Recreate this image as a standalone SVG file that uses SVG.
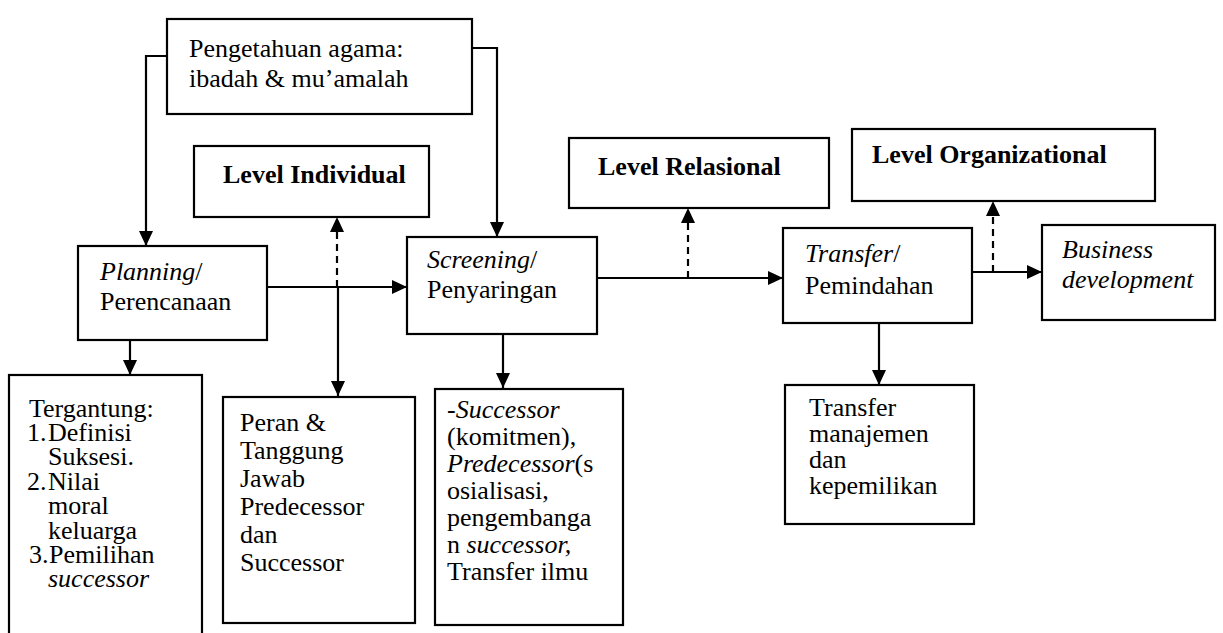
<svg xmlns="http://www.w3.org/2000/svg" width="1223" height="633" viewBox="0 0 1223 633">
  <style>
    .box { fill: #fff; stroke: #000; stroke-width: 2.2; }
    .t { font-family: "Liberation Serif", "Times New Roman", serif; font-size: 26px; fill: #000; }
    .b { font-weight: bold; }
    .i { font-style: italic; }
    .link { fill: none; stroke: #000; stroke-width: 2.2; }
    .dash { stroke-dasharray: 7 5; }
  </style>
  <defs>
    <marker id="arrow" markerUnits="userSpaceOnUse" markerWidth="16" markerHeight="14" refX="15" refY="7" orient="auto">
      <path d="M0,0 L15,7 L0,14 Z" fill="#000"/>
    </marker>
  </defs>

  <rect width="1223" height="633" fill="#fff"/>

  <!-- connectors -->
  <g id="connectors">
    <path class="link" d="M167,56 H146 V246" marker-end="url(#arrow)"/>
    <path class="link" d="M472,48 H497 V237" marker-end="url(#arrow)"/>
    <path class="link" d="M267,287 H407" marker-end="url(#arrow)"/>
    <path class="link dash" d="M337,287 V217" marker-end="url(#arrow)"/>
    <path class="link" d="M338,287 V396" marker-end="url(#arrow)"/>
    <path class="link" d="M130,340 V375" marker-end="url(#arrow)"/>
    <path class="link" d="M503,334 V388" marker-end="url(#arrow)"/>
    <path class="link" d="M597,278 H783" marker-end="url(#arrow)"/>
    <path class="link dash" d="M688,278 V208" marker-end="url(#arrow)"/>
    <path class="link" d="M972,272 H1042" marker-end="url(#arrow)"/>
    <path class="link dash" d="M993,272 V201" marker-end="url(#arrow)"/>
    <path class="link" d="M879,323 V385" marker-end="url(#arrow)"/>
  </g>

  <!-- religious knowledge -->
  <g id="pengetahuan">
    <rect class="box" x="167" y="19" width="305" height="95"/>
    <text class="t" x="189" y="57">Pengetahuan agama:</text>
    <text class="t" x="189" y="87">ibadah &amp; mu’amalah</text>
  </g>

  <g id="level-individual">
    <rect class="box" x="194" y="146" width="235" height="71"/>
    <text class="t b" x="223" y="183">Level Individual</text>
  </g>

  <g id="level-relasional">
    <rect class="box" x="569" y="138" width="260" height="70"/>
    <text class="t b" x="598" y="175">Level Relasional</text>
  </g>

  <g id="level-organizational">
    <rect class="box" x="852" y="129" width="303" height="72"/>
    <text class="t b" x="872" y="163">Level Organizational</text>
  </g>

  <g id="planning">
    <rect class="box" x="78" y="246" width="189" height="94"/>
    <text class="t" x="100" y="280"><tspan class="i">Planning</tspan>/</text>
    <text class="t" x="100" y="310">Perencanaan</text>
  </g>

  <g id="screening">
    <rect class="box" x="407" y="237" width="190" height="97"/>
    <text class="t" x="427" y="268"><tspan class="i">Screening</tspan>/</text>
    <text class="t" x="427" y="298">Penyaringan</text>
  </g>

  <g id="transfer">
    <rect class="box" x="783" y="228" width="189" height="95"/>
    <text class="t" x="805" y="262"><tspan class="i">Transfer</tspan>/</text>
    <text class="t" x="805" y="294">Pemindahan</text>
  </g>

  <g id="business">
    <rect class="box" x="1042" y="225" width="173" height="95"/>
    <text class="t i" x="1062" y="258">Business</text>
    <text class="t i" x="1062" y="288">development</text>
  </g>

  <g id="tergantung">
    <rect class="box" x="9" y="375" width="193" height="264"/>
    <text class="t" x="29" y="417">Tergantung:</text>
    <text class="t" y="441"><tspan x="27">1.</tspan><tspan x="48">Definisi</tspan></text>
    <text class="t" x="48" y="465">Suksesi.</text>
    <text class="t" y="490"><tspan x="27">2.</tspan><tspan x="48">Nilai</tspan></text>
    <text class="t" x="48" y="514">moral</text>
    <text class="t" x="48" y="539">keluarga</text>
    <text class="t" y="563"><tspan x="29">3.</tspan><tspan x="49">Pemilihan</tspan></text>
    <text class="t i" x="48" y="587">successor</text>
  </g>

  <g id="peran">
    <rect class="box" x="223" y="397" width="192" height="226"/>
    <text class="t" x="240" y="431">Peran &amp;</text>
    <text class="t" x="240" y="459">Tanggung</text>
    <text class="t" x="240" y="487">Jawab</text>
    <text class="t" x="240" y="515">Predecessor</text>
    <text class="t" x="240" y="543">dan</text>
    <text class="t" x="240" y="571">Successor</text>
  </g>

  <g id="successor">
    <rect class="box" x="435" y="389" width="188" height="236"/>
    <text class="t i" x="447" y="418">-Successor</text>
    <text class="t" x="447" y="445">(komitmen),</text>
    <text class="t" x="447" y="472"><tspan class="i">Predecessor</tspan>(s</text>
    <text class="t" x="447" y="499">osialisasi,</text>
    <text class="t" x="447" y="526">pengembanga</text>
    <text class="t" x="447" y="553">n <tspan class="i">successor,</tspan></text>
    <text class="t" x="447" y="580">Transfer ilmu</text>
  </g>

  <g id="transfer-manajemen">
    <rect class="box" x="785" y="385" width="189" height="139"/>
    <text class="t" x="809" y="416">Transfer</text>
    <text class="t" x="809" y="442">manajemen</text>
    <text class="t" x="809" y="468">dan</text>
    <text class="t" x="809" y="494">kepemilikan</text>
  </g>
</svg>
